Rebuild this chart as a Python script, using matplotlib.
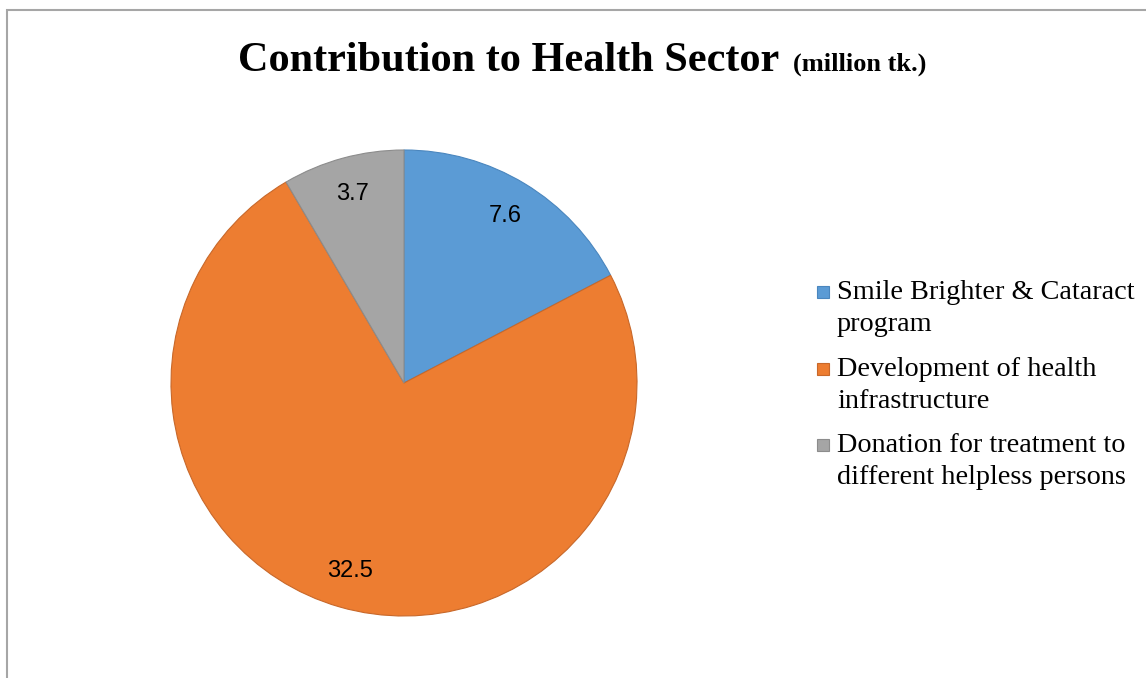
import matplotlib
matplotlib.use("Agg")
import matplotlib.pyplot as plt
from matplotlib.patches import Rectangle
import numpy as np

# data
labels = ["Smile Brighter & Cataract\nprogram",
          "Development of health\ninfrastructure",
          "Donation for treatment to\ndifferent helpless persons"]
values = [7.6, 32.5, 3.7]
value_text = ["7.6", "32.5", "3.7"]
colors = ["#5B9BD5", "#ED7D31", "#A5A5A5"]
edges = ["#4A86BE", "#C8682A", "#8C8C8C"]

W, H = 1146, 678
fig = plt.figure(figsize=(W / 100, H / 100), dpi=100)

# outer frame (chart area border, cut off at right and bottom)
fig.patches.append(Rectangle((6.5 / W, -0.05), 1.2, 1 - 10.5 / H + 0.05,
                             transform=fig.transFigure, fill=False,
                             edgecolor="#A6A6A6", linewidth=1.5))

# pie
ax = fig.add_axes([171 / W, (H - 616) / H, 466 / W, 466 / H])
wedges, _ = ax.pie(values, colors=colors, startangle=90, counterclock=False,
                   radius=1.0, wedgeprops=dict(linewidth=0.8))
for w, ec in zip(wedges, edges):
    w.set_edgecolor(ec)

for w, txt in zip(wedges, value_text):
    ang = np.deg2rad((w.theta1 + w.theta2) / 2)
    r = 0.84
    ax.text(r * np.cos(ang), r * np.sin(ang), txt, ha="center", va="center",
            fontsize=17, family="Liberation Sans", color="black")
ax.set_xlim(-1, 1)
ax.set_ylim(-1, 1)
ax.set_aspect("equal")
ax.axis("off")

# title
t1 = fig.text(238 / W, 1 - 71 / H, "Contribution to Health Sector",
              ha="left", va="baseline", fontsize=30.4, fontweight="bold",
              family="Liberation Serif")
fig.canvas.draw()
bb = t1.get_window_extent()
fig.text((bb.x1 + 14) / W, 1 - 71 / H, "(million tk.)", ha="left",
         va="baseline", fontsize=19, fontweight="bold", family="Liberation Serif")

# legend (drawn by hand so the square sits beside the first line)
tops = [280, 357, 433]
for lab, c, ec, top in zip(labels, colors, edges, tops):
    fig.text(837 / W, 1 - top / H, lab, ha="left", va="top", fontsize=20.3,
             family="Liberation Serif", linespacing=1.37)
    fig.patches.append(Rectangle((817 / W, 1 - (top + 18) / H), 12 / W, 12 / H,
                                 transform=fig.transFigure, facecolor=c,
                                 edgecolor=ec, linewidth=0.8))

fig.savefig("out.png", dpi=100)
